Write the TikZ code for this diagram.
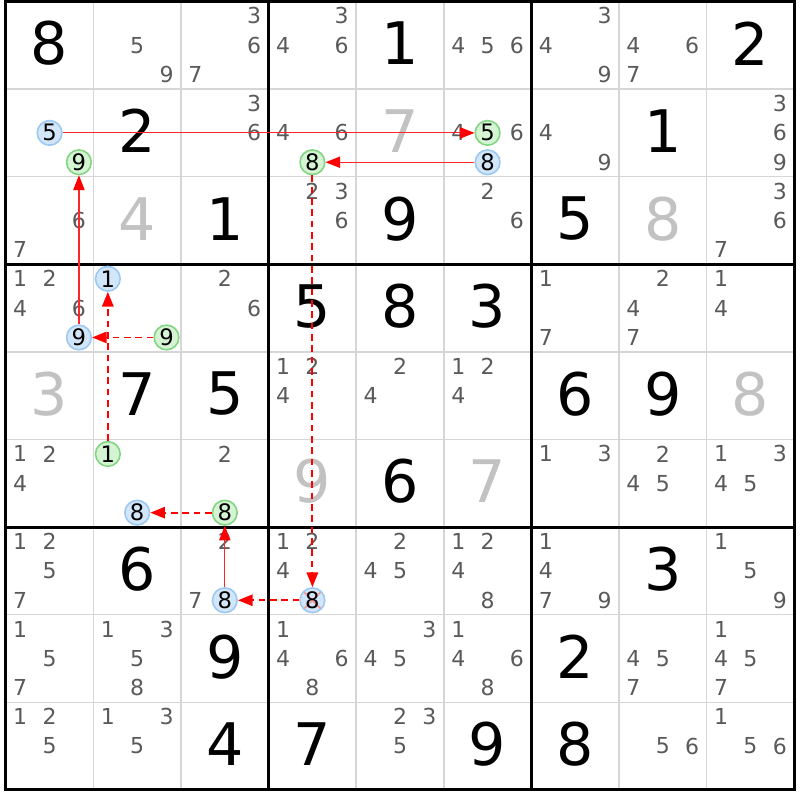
\documentclass[tikz,border=0pt]{standalone}
\usepackage{fontspec}
\setmainfont{DejaVu Sans}
\usetikzlibrary{arrows.meta}

\definecolor{candgray}{HTML}{5A5A5A}
\definecolor{solvedgray}{HTML}{C2C2C2}
\definecolor{gridgray}{HTML}{D6D6D6}
\definecolor{ringblue}{HTML}{D2E6FA}
\definecolor{ringblueline}{HTML}{9CC8F2}
\definecolor{ringgreen}{HTML}{D4F4D4}
\definecolor{ringgreenline}{HTML}{84D484}
\definecolor{crossred}{HTML}{F29A9A}

\begin{document}
\begin{tikzpicture}[x=65.7pt, y=-65.7pt,
        cand/.style={text=candgray, inner sep=0pt, font=\fontsize{16.5}{19}\selectfont},
        given/.style={text=black, inner sep=0pt, font=\fontsize{44}{50}\selectfont},
        solved/.style={given, text=solvedgray},
        ring/.style={circle, minimum size=18.5pt, inner sep=0pt, line width=1.2pt, font=\fontsize{17}{19}\selectfont},
        bluering/.style={ring, draw=ringblueline, fill=ringblue},
        greenring/.style={ring, draw=ringgreenline, fill=ringgreen},
        struck/.style={path picture={
                \draw[crossred, line width=1.2pt] (path picture bounding box.north west) -- (path picture bounding box.south east);
                \draw[crossred, line width=1.2pt] (path picture bounding box.north east) -- (path picture bounding box.south west);}},
        strong/.style={red!85, line width=0.9pt, -{Triangle[length=11pt, width=8.5pt, red]}},
        weak/.style={red, line width=1.4pt, dash pattern=on 5pt off 3.5pt, -{Triangle[length=11pt, width=8.5pt]}}]

    \useasboundingbox (-0.066, -0.017) rectangle (9.066, 9.115);
    \fill[white] (-0.066, -0.017) rectangle (9.066, 9.115);

    % grid
    \foreach \i in {1, 2, 4, 5, 7, 8}
        {
            \draw[gridgray, line width=1.1pt] (\i, 0)--(\i, 9);
            \draw[gridgray, line width=1.1pt] (0, \i)--(9, \i);
        }
    \foreach \i in {3, 6}
        {
            \draw[line width=2.3pt] (\i, 0)--(\i, 9);
            \draw[line width=2.3pt] (0, \i)--(9, \i);
        }
    \draw[line width=2.3pt] (0, 0) rectangle (9, 9);

    % givens and solved cells
    \foreach \c/\r/\v in {1/1/8, 5/1/1, 9/1/2, 2/2/2, 8/2/1, 3/3/1, 5/3/9, 7/3/5,
            4/4/5, 5/4/8, 6/4/3, 2/5/7, 3/5/5, 7/5/6, 8/5/9, 5/6/6, 2/7/6, 8/7/3,
            3/8/9, 7/8/2, 3/9/4, 4/9/7, 6/9/9, 7/9/8}
        \node[given] (g\c\r) at (\c-0.5, \r-0.52) {\v};
    \foreach \c/\r/\v in {5/2/7, 2/3/4, 8/3/8, 1/5/3, 9/5/8, 4/6/9, 6/6/7}
        \node[solved] (g\c\r) at (\c-0.5, \r-0.52) {\v};

    % candidates
    \foreach \c/\r/\ds in {2/1/{5,9}, 3/1/{3,6,7}, 4/1/{3,4,6}, 6/1/{4,5,6}, 7/1/{3,4,9}, 8/1/{4,6,7},
            1/2/{5,9}, 3/2/{3,6}, 4/2/{4,6,8}, 6/2/{4,5,6,8}, 7/2/{4,9}, 9/2/{3,6,9},
            1/3/{6,7}, 4/3/{2,3,6}, 6/3/{2,6}, 9/3/{3,6,7},
            1/4/{1,2,4,6,9}, 2/4/{1,9}, 3/4/{2,6}, 7/4/{1,7}, 8/4/{2,4,7}, 9/4/{1,4},
            4/5/{1,2,4}, 5/5/{2,4}, 6/5/{1,2,4},
            1/6/{1,2,4}, 2/6/{1,8}, 3/6/{2,8}, 7/6/{1,3}, 8/6/{2,4,5}, 9/6/{1,3,4,5},
            1/7/{1,2,5,7}, 3/7/{2,7,8}, 4/7/{1,2,4,8}, 5/7/{2,4,5}, 6/7/{1,2,4,8}, 7/7/{1,4,7,9}, 9/7/{1,5,9},
            1/8/{1,5,7}, 2/8/{1,3,5,8}, 4/8/{1,4,6,8}, 5/8/{3,4,5}, 6/8/{1,4,6,8}, 8/8/{4,5,7}, 9/8/{1,4,5,7},
            1/9/{1,2,5}, 2/9/{1,3,5}, 5/9/{2,3,5}, 8/9/{5,6}, 9/9/{1,5,6}}
        {
            \foreach \d in \ds
                {
                    \pgfmathsetmacro\cx{\c-0.835+0.335*mod(\d-1,3)}
                    \pgfmathsetmacro\cy{\r-0.835+0.335*floor((\d-1)/3)}
                    \node[cand] (\c-\r-\d) at (\cx, \cy) {\d};
                }
        }

    % chain
    \node[bluering] (five1) at (1-2-5) {5};
    \node[greenring] (five2) at (6-2-5) {5};
    \node[bluering] (eight1) at (6-2-8) {8};
    \node[greenring] (eight2) at (4-2-8) {8};
    \node[bluering, struck] (eight3) at (4-7-8) {8};
    \node[bluering] (eight4) at (3-7-8) {8};
    \node[greenring] (eight5) at (3-6-8) {8};
    \node[bluering] (eight6) at (2-6-8) {8};
    \node[greenring] (one1) at (2-6-1) {1};
    \node[bluering] (one2) at (2-4-1) {1};
    \node[greenring] (nine1) at (2-4-9) {9};
    \node[bluering] (nine2) at (1-4-9) {9};
    \node[greenring] (nine3) at (1-2-9) {9};

    \draw[strong] (five1)--(five2);
    \draw[strong] (eight1)--(eight2);
    \draw[weak] (eight2)--(eight3);
    \draw[weak] (eight3)--(eight4);
    \draw[strong] (eight4)--(eight5);
    \draw[weak] (eight5)--(eight6);
    \draw[weak] (one1)--(one2);
    \draw[weak] (nine1)--(nine2);
    \draw[strong] (nine2)--(nine3);
\end{tikzpicture}
\end{document}
